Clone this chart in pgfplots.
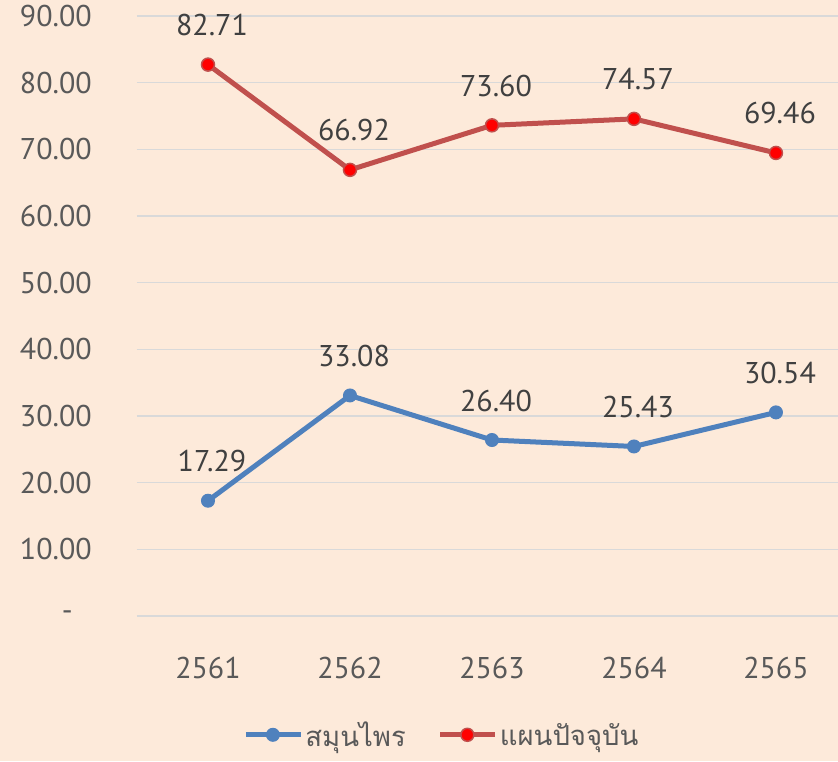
\documentclass[border=0pt]{standalone}
\usepackage{fontspec}
\setmainfont{PT Sans}
\newfontfamily\thaifont[Script=Thai]{Loma}
\usepackage{pgfplots}
\pgfplotsset{compat=1.18}
\usetikzlibrary{backgrounds}
\definecolor{bgPeach}{RGB}{253,234,218}
\definecolor{gridGray}{RGB}{217,217,217}
\definecolor{tickGray}{RGB}{89,89,89}
\definecolor{labelGray}{RGB}{64,64,64}
\definecolor{herbBlue}{RGB}{79,129,189}
\definecolor{modernRed}{RGB}{192,80,77}

\begin{document}
\begin{tikzpicture}
\begin{axis}[
    at={(0,0)}, anchor=south west,
    scale only axis,
    width=701pt, height=600pt,
    xmin=0.5, xmax=5.437,
    ymin=0, ymax=90,
    clip=false,
    xtick={1,2,3,4,5},
    xticklabels={2561,2562,2563,2564,2565},
    ytick={0,10,20,30,40,50,60,70,80,90},
    yticklabels={{-\rule{19pt}{0pt}},10.00,20.00,30.00,40.00,50.00,60.00,70.00,80.00,90.00},
    font=\fontsize{30}{36}\selectfont,
    /pgf/number format/assume math mode=true,
    axis line style={draw=none},
    major tick length=0pt,
    ymajorgrids=true,
    grid style={draw=gridGray, line width=1.5pt},
    yticklabel style={text=tickGray, inner sep=0pt, anchor=east},
    yticklabel shift=45pt,
    xticklabel style={text=tickGray, inner sep=0pt, anchor=north},
    xticklabel shift=41pt,
    nodes near coords,
    point meta=explicit symbolic,
    every node near coord/.append style={text=labelGray, anchor=south, inner sep=0pt, yshift=28pt, xshift=4pt, font=\fontsize{30}{36}\selectfont},
    legend columns=2,
    legend style={at={(0.435,-0.198)}, anchor=center, draw=none, fill=none,
        font=\fontsize{27.5}{33}\selectfont\thaifont, text=tickGray,
        /tikz/every even column/.append style={column sep=30pt},
        nodes={inner sep=2pt}},
    legend image code/.code={
        \draw[mark repeat=2, mark phase=2, #1] plot coordinates {(0pt,0pt) (27pt,0pt) (55pt,0pt)};
    },
]
\addplot[draw=herbBlue, line width=5pt, mark=*, mark size=6.5pt,
    mark options={fill=herbBlue, draw=herbBlue, line width=1pt}]
    coordinates {
    (1,17.29) [17.29]
    (2,33.08) [33.08]
    (3,26.40) [26.40]
    (4,25.43) [25.43]
    (5,30.54) [30.54]
};
\addlegendentry{สมุนไพร}
\addplot[draw=modernRed, line width=5pt, mark=*, mark size=6.5pt,
    mark options={fill=red, draw=modernRed, line width=1.5pt}]
    coordinates {
    (1,82.71) [82.71]
    (2,66.92) [66.92]
    (3,73.60) [73.60]
    (4,74.57) [74.57]
    (5,69.46) [69.46]
};
\addlegendentry{แผนปัจจุบัน}
\end{axis}
\begin{scope}[on background layer]
    \fill[bgPeach] (-137pt,-145pt) rectangle (701pt,616pt);
\end{scope}
\pgfresetboundingbox
\path[use as bounding box] (-137pt,-145pt) rectangle (701pt,616pt);
\end{tikzpicture}
\end{document}
